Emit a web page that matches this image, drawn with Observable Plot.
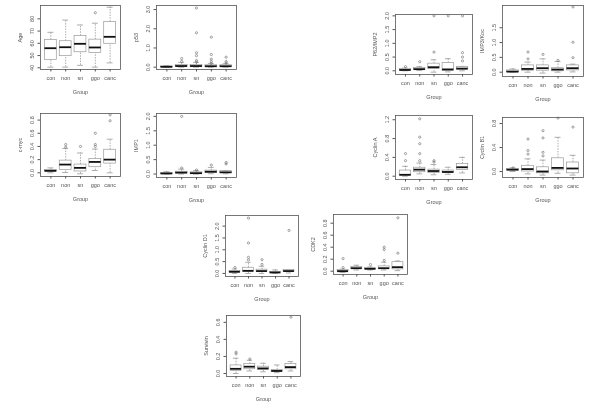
<!DOCTYPE html>
<html><head><meta charset="utf-8">
<script src="https://cdn.jsdelivr.net/npm/d3@7"></script>
<script src="https://cdn.jsdelivr.net/npm/@observablehq/plot@0.6"></script>
<style>
html,body{margin:0;padding:0;background:#fff;}
#wrap{position:relative;width:600px;height:414px;overflow:hidden;background:#fff;}
.panel{position:absolute;will-change:transform;}
svg{-webkit-font-smoothing:antialiased;}
</style></head>
<body><div id="wrap"></div>
<script>
const groups = ["con","non","sn","ggo","canc"];

// Age
const ageLo  = [40.5, 40.5, 42, 40.5, 44];
const ageQ1  = [46.5, 49.5, 52.7, 52.2, 59.6];
const ageMed = [56, 56.8, 59.6, 56.6, 65.3];
const ageQ3  = [62.8, 61.7, 66, 63, 77.5];
const ageHi  = [69, 79, 75, 76.4, 89.5];
const ageOut = [[4, 85]];

// p53
const p53Lo  = [0, 0, 0, 0, 0];
const p53Q1  = [0.0, 0.03, 0.02, 0.02, 0.02];
const p53Med = [0.02, 0.06, 0.06, 0.05, 0.05];
const p53Q3  = [0.04, 0.12, 0.12, 0.1, 0.1];
const p53Hi  = [0.08, 0.25, 0.25, 0.2, 0.18];
const p53Out = [[2,0.3],[2,0.45],[3,0.27],[3,0.35],[3,0.6],[3,0.75],[3,1.79],[3,3.08],[4,0.2],[4,0.3],[4,0.42],[4,0.66],[4,1.56],[5,0.22],[5,0.3],[5,0.52]];

// P62/IMP2
const p62Lo  = [0, 0.01, -0.05, -0.04, 0.0];
const p62Q1  = [0.01, 0.03, 0.07, -0.01, 0.04];
const p62Med = [0.03, 0.06, 0.13, 0.05, 0.08];
const p62Q3  = [0.07, 0.1, 0.26, 0.28, 0.14];
const p62Hi  = [0.1, 0.15, 0.4, 0.44, 0.16];
const p62Out = [[1,0.15],[2,0.33],[3,0.68],[3,2.0],[4,2.0],[5,0.36],[5,0.5],[5,0.66],[5,2.0]];

// IMP3/Koc
const impLo  = [0, 0, -0.03, 0, 0.01];
const impQ1  = [0.0, 0.05, 0.05, 0.03, 0.06];
const impMed = [0.02, 0.11, 0.135, 0.09, 0.135];
const impQ3  = [0.06, 0.23, 0.23, 0.135, 0.23];
const impHi  = [0.11, 0.34, 0.45, 0.36, 0.27];
const impOut = [[2,0.45],[2,0.68],[3,0.6],[4,0.4],[5,0.49],[5,1.01],[5,2.2]];

// c-myc
const mycLo  = [0.0, 0.005, -0.015, 0.035, 0.0];
const mycQ1  = [0.02, 0.045, 0.02, 0.085, 0.14];
const mycMed = [0.03, 0.125, 0.075, 0.165, 0.2];
const mycQ3  = [0.045, 0.185, 0.125, 0.21, 0.35];
const mycHi  = [0.075, 0.37, 0.3, 0.36, 0.51];
const mycOut = [[2,0.39],[2,0.43],[3,0.4],[4,0.4],[4,0.43],[4,0.6],[5,0.79],[5,0.88]];

// IMP1
const imp1Lo  = [0, 0, 0, 0.01, 0.01];
const imp1Q1  = [0.01, 0.02, 0.01, 0.04, 0.03];
const imp1Med = [0.02, 0.05, 0.03, 0.08, 0.06];
const imp1Q3  = [0.03, 0.08, 0.06, 0.12, 0.1];
const imp1Hi  = [0.08, 0.17, 0.12, 0.23, 0.12];
const imp1Out = [[2,0.21],[2,2.0],[3,0.14],[4,0.31],[5,0.35],[5,0.4]];

// Cyclin A
const cyaLo  = [0.0, 0.05, 0.03, 0.04, 0.07];
const cyaQ1  = [0.015, 0.085, 0.07, 0.065, 0.135];
const cyaMed = [0.03, 0.14, 0.11, 0.09, 0.19];
const cyaQ3  = [0.12, 0.18, 0.14, 0.12, 0.26];
const cyaHi  = [0.21, 0.28, 0.25, 0.19, 0.4];
const cyaOut = [[1,0.33],[1,0.48],[2,0.33],[2,0.48],[2,0.69],[2,0.83],[2,1.22],[3,0.3],[3,0.33]];

// Cyclin B1
const cybLo  = [0.0, -0.04, -0.06, -0.03, -0.06];
const cybQ1  = [0.02, 0.0, -0.03, 0.02, -0.03];
const cybMed = [0.03, 0.04, 0.0, 0.06, 0.05];
const cybQ3  = [0.04, 0.095, 0.07, 0.22, 0.15];
const cybHi  = [0.06, 0.21, 0.19, 0.57, 0.27];
const cybOut = [[1,0.06],[2,0.29],[2,0.35],[2,0.54],[3,0.26],[3,0.32],[3,0.56],[3,0.68],[4,0.89],[5,0.74]];

// Cyclin D1
const cydLo  = [0.0, 0.0, 0.0, 0.0, 0.02];
const cydQ1  = [0.04, 0.06, 0.06, 0.03, 0.07];
const cydMed = [0.07, 0.11, 0.1, 0.04, 0.1];
const cydQ3  = [0.1, 0.24, 0.16, 0.07, 0.15];
const cydHi  = [0.19, 0.47, 0.3, 0.15, 0.16];
const cydOut = [[1,0.25],[2,0.57],[2,0.68],[2,1.29],[2,2.34],[3,0.38],[3,0.58],[5,1.82]];

// CDK2
const cdkLo  = [-0.02, 0.02, 0.02, 0.02, 0.01];
const cdkQ1  = [0.0, 0.035, 0.03, 0.035, 0.03];
const cdkMed = [0.0, 0.05, 0.04, 0.05, 0.067];
const cdkQ3  = [0.02, 0.07, 0.05, 0.08, 0.15];
const cdkHi  = [0.035, 0.1, 0.07, 0.15, 0.17];
const cdkOut = [[1,0.06],[1,0.21],[3,0.11],[4,0.18],[4,0.36],[4,0.4],[5,0.3],[5,0.89]];

// Survivin
const surLo  = [0.0, 0.03, 0.02, 0.01, 0.03];
const surQ1  = [0.03, 0.05, 0.04, 0.02, 0.05];
const surMed = [0.055, 0.08, 0.06, 0.03, 0.075];
const surQ3  = [0.095, 0.11, 0.08, 0.04, 0.11];
const surHi  = [0.18, 0.155, 0.12, 0.1, 0.14];
const surOut = [[1,0.23],[1,0.25],[2,0.17],[5,0.66]];

// layout: frame position/size in the page, y domain, ticks
const panels = [
  {label:"Age",      lo:ageLo, q1:ageQ1, med:ageMed, q3:ageQ3, hi:ageHi, out:ageOut, fx:40,  fy:5,   fw:80, fh:64, dom:[38.6,90.9], ticks:[40,50,60,70,80], fmt:d=>String(d)},
  {label:"p53",      lo:p53Lo, q1:p53Q1, med:p53Med, q3:p53Q3, hi:p53Hi, out:p53Out, fx:156, fy:5,   fw:80, fh:64, dom:[-0.12,3.21], ticks:[0,1,2,3]},
  {label:"P62/IMP2", lo:p62Lo, q1:p62Q1, med:p62Med, q3:p62Q3, hi:p62Hi, out:p62Out, fx:395, fy:14,  fw:77, fh:60, dom:[-0.135,2.05], ticks:[0,0.5,1,1.5,2]},
  {label:"IMP3/Koc", lo:impLo, q1:impQ1, med:impMed, q3:impQ3, hi:impHi, out:impOut, fx:502, fy:5,   fw:81, fh:71, dom:[-0.145,2.25], ticks:[0,0.5,1,1.5]},
  {label:"c-myc",    lo:mycLo, q1:mycQ1, med:mycMed, q3:mycQ3, hi:mycHi, out:mycOut, fx:40,  fy:113, fw:80, fh:63, dom:[-0.056,0.9], ticks:[0,0.2,0.4,0.6,0.8]},
  {label:"IMP1",     lo:imp1Lo, q1:imp1Q1, med:imp1Med, q3:imp1Q3, hi:imp1Hi, out:imp1Out, fx:156, fy:113, fw:80, fh:64, dom:[-0.12,2.1], ticks:[0,0.5,1,1.5,2]},
  {label:"Cyclin A", lo:cyaLo, q1:cyaQ1, med:cyaMed, q3:cyaQ3, hi:cyaHi, out:cyaOut, fx:395, fy:115, fw:77, fh:64, dom:[-0.07,1.29], ticks:[0,0.4,0.8,1.2]},
  {label:"Cyclin B1",lo:cybLo, q1:cybQ1, med:cybMed, q3:cybQ3, hi:cybHi, out:cybOut, fx:502, fy:117, fw:81, fh:60, dom:[-0.1,0.9], ticks:[0,0.4,0.8]},
  {label:"Cyclin D1",lo:cydLo, q1:cydQ1, med:cydMed, q3:cydQ3, hi:cydHi, out:cydOut, fx:225, fy:215, fw:73, fh:61, dom:[-0.13,2.45], ticks:[0,0.5,1,1.5,2]},
  {label:"CDK2",     lo:cdkLo, q1:cdkQ1, med:cdkMed, q3:cdkQ3, hi:cdkHi, out:cdkOut, fx:333, fy:214, fw:74, fh:60, dom:[-0.055,0.945], ticks:[0,0.2,0.4,0.6,0.8]},
  {label:"Survivin", lo:surLo, q1:surQ1, med:surMed, q3:surQ3, hi:surHi, out:surOut, fx:226, fy:315, fw:74, fh:61, dom:[-0.035,0.68], ticks:[0,0.2,0.4,0.6]}
];

const ML = 32, MR = 4, MT = 4, MB = 32;
const FONT = "Liberation Sans, Arial, sans-serif";
const TXT = "#555";
const wrap = document.getElementById("wrap");

for (const p of panels) {
  const rows = groups.map((g, i) => ({i: i + 1, lo: p.lo[i], q1: p.q1[i], med: p.med[i], q3: p.q3[i], hi: p.hi[i]}));
  const outs = p.out.map(([g, v]) => ({i: g, v}));
  const fmt = p.fmt || d3.format(".1f");
  const chart = Plot.plot({
    width: p.fw + ML + MR,
    height: p.fh + MT + MB,
    marginLeft: ML, marginRight: MR, marginTop: MT, marginBottom: MB,
    style: {fontFamily: FONT, fontSize: "5.5px", color: TXT, background: "transparent"},
    x: {domain: [0.3, 5.7]},
    y: {domain: p.dom},
    marks: [
      Plot.frame({stroke: "#555", strokeWidth: 0.8}),
      Plot.ruleX(rows, {x: "i", y1: "lo", y2: "q1", stroke: "#777", strokeWidth: 0.6, strokeDasharray: "1.5,1.2"}),
      Plot.ruleX(rows, {x: "i", y1: "q3", y2: "hi", stroke: "#777", strokeWidth: 0.6, strokeDasharray: "1.5,1.2"}),
      Plot.ruleY(rows, {y: "hi", x1: d => d.i - 0.2, x2: d => d.i + 0.2, stroke: "#777", strokeWidth: 0.6}),
      Plot.ruleY(rows, {y: "lo", x1: d => d.i - 0.2, x2: d => d.i + 0.2, stroke: "#777", strokeWidth: 0.6}),
      Plot.rect(rows, {x1: d => d.i - 0.4, x2: d => d.i + 0.4, y1: "q1", y2: "q3", fill: "#fff", stroke: "#999", strokeWidth: 0.7}),
      Plot.ruleY(rows, {y: "med", x1: d => d.i - 0.4, x2: d => d.i + 0.4, stroke: "#111", strokeWidth: 1.8}),
      Plot.dot(outs, {x: "i", y: "v", r: 1.1, stroke: "#666", strokeWidth: 0.6}),
      Plot.axisY({ticks: p.ticks, tickFormat: fmt, tickSize: 2.5, tickPadding: 4, tickRotate: -90, stroke: "#555",
        label: p.label, labelAnchor: "center", labelArrow: "none", labelOffset: 22}),
      Plot.axisX({ticks: [1,2,3,4,5], tickFormat: d => groups[d - 1], tickSize: 2.5, tickPadding: 4.5, stroke: "#555",
        label: "Group", labelAnchor: "center", labelArrow: "none", labelOffset: 24})
    ]
  });
  const div = document.createElement("div");
  div.className = "panel";
  div.style.left = (p.fx - ML) + "px";
  div.style.top = (p.fy - MT) + "px";
  div.appendChild(chart);
  wrap.appendChild(div);
}
</script></body></html>
